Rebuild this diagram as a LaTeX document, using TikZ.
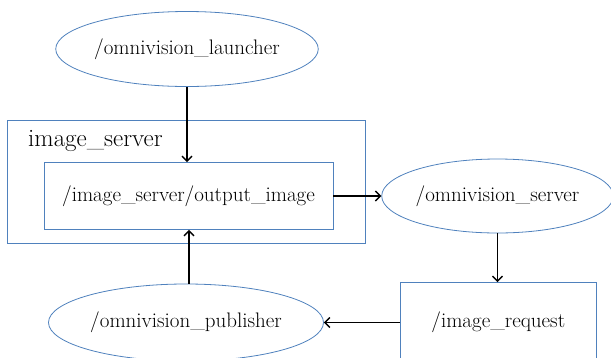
\documentclass[tikz,border=0pt]{standalone}
\usetikzlibrary{shapes.geometric,arrows.meta}
\definecolor{obl}{HTML}{4F81BD}
\begin{document}
\begin{tikzpicture}[x=1pt,y=-1pt,
  lbl/.style={font=\fontsize{21}{24}\selectfont},
  bx/.style={draw=obl,line width=0.8pt,rectangle,inner sep=0pt,lbl},
  ell/.style={draw=obl,line width=0.8pt,ellipse,inner sep=0pt,lbl},
  arr/.style={line width=1.8pt,-{Straight Barb[length=5pt,width=10pt,line width=1.4pt]}}]
\useasboundingbox (0,0) rectangle (611,357);
\clip (0,0) rectangle (611,357);
\node[bx,minimum width=357.7pt,minimum height=123pt] (outer) at (186.6,181.5) {};
\node[font=\fontsize{25}{28}\selectfont,anchor=west,inner sep=0pt] (outerlbl) at (28,141) {image\_server};
\node[bx,minimum width=289pt,minimum height=67pt] (inner) at (188.5,196) {/image\_server/output\_image};
\node[ell,minimum width=258pt,minimum height=75pt] (launch) at (187,49) {/omnivision\_launcher};
\node[ell,minimum width=225pt,minimum height=74pt] (server) at (497.5,196) {/omnivision\_server};
\node[bx,minimum width=195.4pt,minimum height=80pt] (req) at (498.3,322.5) {/image\_request};
\node[ell,minimum width=275pt,minimum height=77pt] (pub) at (186,322.5) {/omnivision\_publisher};
\draw[arr] (launch.south) -- (launch.south |- inner.north);
\draw[arr] ([xshift=3pt]pub.north) -- ([xshift=3pt]pub.north |- inner.south);
\draw[arr] (inner.east) -- (server.west);
\draw[arr] (server.south) -- (server.south |- req.north);
\draw[arr] (req.west) -- (pub.east);
\end{tikzpicture}
\end{document}
